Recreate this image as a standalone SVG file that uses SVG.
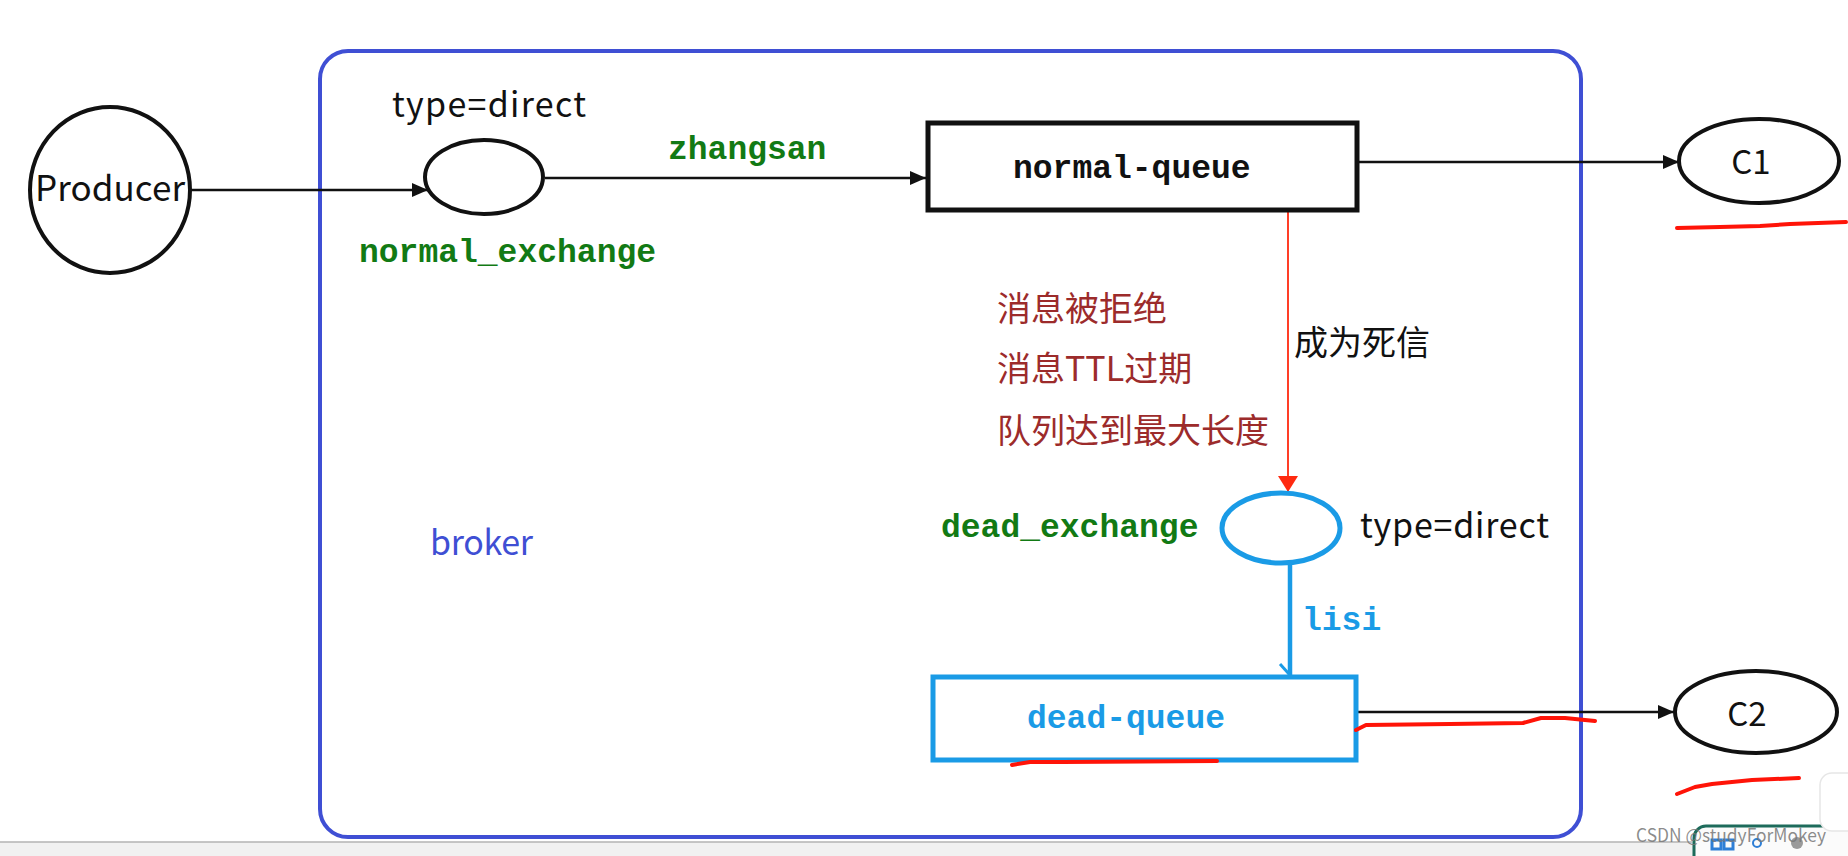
<svg xmlns="http://www.w3.org/2000/svg" width="1848" height="856" viewBox="0 0 1848 856">
<style>
.sans{font-family:"Noto Sans CJK SC","Noto Sans",sans-serif;}
.mono{font-family:"Liberation Mono","DejaVu Sans Mono",monospace;font-weight:bold;font-size:33px;}
.green{fill:#127a14;}
.cyan{fill:#1a9be6;}
.blk{fill:#111;}
.node{fill:#fff;stroke:#111;stroke-width:4;}
.conn{stroke:#111;stroke-width:2.5;fill:none;}
.scrib{stroke:#ff1408;stroke-width:4;fill:none;stroke-linecap:round;stroke-linejoin:round;}
.reason{fill:#9c2b2b;font-size:34px;}
</style>
<defs>
<marker id="ab" markerUnits="userSpaceOnUse" markerWidth="16" markerHeight="14" refX="16" refY="7" orient="auto"><path d="M0,0 L16,7 L0,14 z" fill="#111"/></marker>
<marker id="ar" markerUnits="userSpaceOnUse" markerWidth="16" markerHeight="20" refX="16" refY="10" orient="auto"><path d="M0,0 L16,10 L0,20 z" fill="#ff2a10"/></marker>
</defs>
<rect width="1848" height="856" fill="#fff"/>

<g id="broker">
<rect x="320" y="51" width="1261" height="786" rx="28" fill="none" stroke="#3f4fd4" stroke-width="4"/>
<text class="sans" x="430" y="555" font-size="34" fill="#3f4fd4" textLength="103">broker</text>
</g>

<g id="connectors">
<line class="conn" x1="191" y1="190" x2="428" y2="190" marker-end="url(#ab)"/>
<line class="conn" x1="545" y1="178" x2="926" y2="178" marker-end="url(#ab)"/>
<line class="conn" x1="1359" y1="162" x2="1679" y2="162" marker-end="url(#ab)"/>
<line x1="1288" y1="212" x2="1288" y2="492" stroke="#ff2a10" stroke-width="1.8" marker-end="url(#ar)"/>
<line x1="1290" y1="565" x2="1290" y2="675" stroke="#1a9be6" stroke-width="4.5"/>
<line x1="1280" y1="664" x2="1289" y2="674" stroke="#1a9be6" stroke-width="3"/>
<line class="conn" x1="1358" y1="712" x2="1674" y2="712" marker-end="url(#ab)"/>
</g>

<g id="producer">
<ellipse class="node" cx="110" cy="190" rx="80" ry="83"/>
<text class="sans blk" x="110" y="201" font-size="35" text-anchor="middle" textLength="150">Producer</text>
</g>

<g id="normal_exchange">
<ellipse class="node" cx="484" cy="177" rx="59" ry="37"/>
<text class="sans blk" x="392" y="117" font-size="34" textLength="194">type=direct</text>
<text class="mono green" x="359" y="262">normal_exchange</text>
</g>

<g id="zhangsan_label">
<text class="mono green" x="668" y="159">zhangsan</text>
</g>

<g id="normal_queue">
<rect x="928" y="123" width="429" height="87" fill="#fff" stroke="#111" stroke-width="5"/>
<text class="mono blk" x="1013" y="178">normal-queue</text>
</g>

<g id="c1">
<ellipse class="node" cx="1759" cy="161" rx="80" ry="42"/>
<text class="sans blk" x="1751" y="174" font-size="33" text-anchor="middle">C1</text>
</g>

<g id="dead_reasons">
<text class="sans reason" x="997" y="321">消息被拒绝</text>
<text class="sans reason" x="997" y="381">消息TTL过期</text>
<text class="sans reason" x="997" y="443">队列达到最大长度</text>
<text class="sans blk" x="1294" y="355" font-size="34">成为死信</text>
</g>

<g id="dead_exchange">
<ellipse cx="1281" cy="528" rx="59" ry="35" fill="#fff" stroke="#1a9be6" stroke-width="5"/>
<text class="mono green" x="941" y="537">dead_exchange</text>
<text class="sans blk" x="1360" y="538" font-size="34" textLength="189">type=direct</text>
</g>

<g id="lisi_label">
<text class="mono cyan" x="1302" y="630" font-size="32">lisi</text>
</g>

<g id="dead_queue">
<rect x="933" y="677" width="423" height="83" fill="#fff" stroke="#1a9be6" stroke-width="5"/>
<text class="mono cyan" x="1027" y="728">dead-queue</text>
</g>

<g id="c2">
<ellipse class="node" cx="1756" cy="712" rx="81" ry="41"/>
<text class="sans blk" x="1747" y="726" font-size="33" text-anchor="middle">C2</text>
</g>

<g id="annotations">
<path class="scrib" d="M1677 228 L1720 227 L1760 226 L1790 224 L1846 222"/>
<path class="scrib" d="M1356 730 L1366 725 L1450 724 L1523 723 L1541 718 L1565 718 L1595 721"/>
<path class="scrib" d="M1012 765 L1030 762 L1063 762 L1217 761"/>
<path class="scrib" d="M1677 794 L1695 787 L1712 784 L1752 780 L1799 778"/>
</g>

<g id="screen_chrome">
<rect x="0" y="842" width="1848" height="14" fill="#f1f1f1"/>
<line x1="0" y1="842" x2="1692" y2="842" stroke="#b3b3b3" stroke-width="1.5"/>
<rect x="1694" y="826" width="170" height="50" rx="12" fill="#fbfbfb" stroke="#1d6b5b" stroke-width="3"/>
<rect x="1712" y="840" width="9" height="9" fill="none" stroke="#2f7fd6" stroke-width="3"/>
<rect x="1724" y="840" width="9" height="9" fill="none" stroke="#2f7fd6" stroke-width="3"/>
<circle cx="1757" cy="843" r="4" fill="none" stroke="#2f7fd6" stroke-width="2"/>
<circle cx="1797" cy="843" r="6" fill="#9a9a9a"/>
<rect x="1820" y="773" width="40" height="58" rx="12" fill="#fff" stroke="#e6e6e6" stroke-width="1.5"/>
<text class="sans" x="1636" y="842" font-size="18" fill="#777" fill-opacity="0.85" textLength="190" lengthAdjust="spacingAndGlyphs">CSDN @studyForMokey</text>
</g>
</svg>
